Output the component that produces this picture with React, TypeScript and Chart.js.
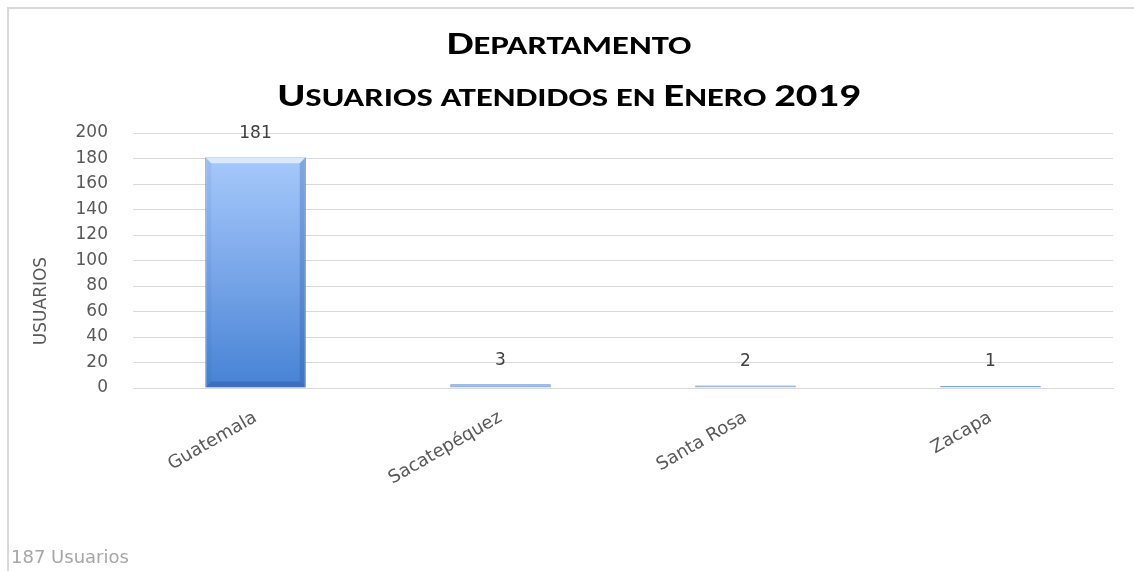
import React, { useEffect, useRef } from "react";
import { Chart, registerables } from "chart.js";

Chart.register(...registerables);

const categories: string[] = ["Guatemala", "Sacatepéquez", "Santa Rosa", "Zacapa"];
const usuarios: number[] = [181, 3, 2, 1];
const titleLines: string[] = ["Departamento", "Usuarios atendidos en Enero 2019"];
const yAxisTitle = "USUARIOS";
const footerText = "187 Usuarios";
const yMin = 0;
const yMax = 200;
const yStep = 20;

const TITLE_FONT = "Carlito, Lato, 'Open Sans', sans-serif";
const FONT = "'DejaVu Sans', Verdana, sans-serif";
const TICK_COLOR = "#595959";
const GRID_COLOR = "#d9d9d9";

const framePlugin = {
  id: "frame",
  beforeDraw(chart: any) {
    const ctx = chart.ctx;
    ctx.save();
    ctx.fillStyle = "#ffffff";
    ctx.fillRect(0, 0, chart.width, chart.height);
    ctx.strokeStyle = "#d9d9d9";
    ctx.lineWidth = 2;
    ctx.strokeRect(8, 8, chart.width + 20, chart.height + 20);
    ctx.restore();
  },
  afterDraw(chart: any) {
    const ctx = chart.ctx;
    ctx.save();
    ctx.fillStyle = TICK_COLOR;
    ctx.font = `17px ${FONT}`;
    ctx.translate(42, 301);
    ctx.rotate(-Math.PI / 2);
    ctx.textAlign = "center";
    ctx.textBaseline = "middle";
    ctx.fillText(yAxisTitle, 0, 0);
    ctx.restore();
    ctx.save();
    ctx.fillStyle = "#a6a6a6";
    ctx.font = `18px ${FONT}`;
    ctx.textAlign = "left";
    ctx.textBaseline = "alphabetic";
    ctx.fillText(footerText, 11, 563);
    ctx.restore();
  },
};

const barDecorPlugin = {
  id: "barDecor",
  afterDatasetsDraw(chart: any) {
    const ctx = chart.ctx;
    const meta = chart.getDatasetMeta(0);
    ctx.save();
    meta.data.forEach((bar: any, i: number) => {
      const { x, y, base, width } = bar.getProps(["x", "y", "base", "width"], true);
      const left = x - width / 2;
      const right = x + width / 2;
      const h = base - y;
      if (h > 12) {
        const b = 6;
        ctx.fillStyle = "rgba(235,245,255,0.75)";
        ctx.beginPath();
        ctx.moveTo(left, y);
        ctx.lineTo(right, y);
        ctx.lineTo(right - b, y + b);
        ctx.lineTo(left + b, y + b);
        ctx.closePath();
        ctx.fill();
        ctx.fillStyle = "rgba(40,80,150,0.28)";
        ctx.beginPath();
        ctx.moveTo(right, y);
        ctx.lineTo(right, base);
        ctx.lineTo(right - b, base - b);
        ctx.lineTo(right - b, y + b);
        ctx.closePath();
        ctx.fill();
        ctx.fillStyle = "rgba(40,80,150,0.08)";
        ctx.beginPath();
        ctx.moveTo(left, y);
        ctx.lineTo(left, base);
        ctx.lineTo(left + b, base - b);
        ctx.lineTo(left + b, y + b);
        ctx.closePath();
        ctx.fill();
        ctx.fillStyle = "rgba(30,70,140,0.3)";
        ctx.beginPath();
        ctx.moveTo(left, base);
        ctx.lineTo(right, base);
        ctx.lineTo(right - b, base - b);
        ctx.lineTo(left + b, base - b);
        ctx.closePath();
        ctx.fill();
      }
      ctx.fillStyle = "#404040";
      ctx.font = `17px ${FONT}`;
      ctx.textAlign = "center";
      ctx.textBaseline = "middle";
      ctx.fillText(String(usuarios[i]), x, y - 24);
    });
    ctx.restore();
  },
};

const smallCapsTitlePlugin = {
  id: "smallCapsTitle",
  afterDraw(chart: any) {
    const ctx = chart.ctx;
    const cx = chart.width / 2 + 2;
    const bigSize = 32;
    const smallSize = 26;
    const stretch = 1.33;
    const baselines = [54, 106];
    ctx.save();
    ctx.fillStyle = "#000000";
    ctx.textBaseline = "alphabetic";
    titleLines.forEach((line, li) => {
      const runs: { t: string; big: boolean }[] = [];
      for (const ch of line) {
        const big = ch === " " ? false : ch === ch.toUpperCase();
        const t = ch.toUpperCase();
        const last = runs[runs.length - 1];
        if (last && last.big === big) last.t += t;
        else runs.push({ t, big });
      }
      let total = 0;
      const widths = runs.map((r) => {
        ctx.font = `bold ${r.big ? bigSize : smallSize}px ${TITLE_FONT}`;
        const w = ctx.measureText(r.t).width;
        total += w;
        return w;
      });
      ctx.save();
      ctx.translate(cx - (total * stretch) / 2, baselines[li]);
      ctx.scale(stretch, 1);
      let xPos = 0;
      runs.forEach((r, k) => {
        ctx.font = `bold ${r.big ? bigSize : smallSize}px ${TITLE_FONT}`;
        ctx.textAlign = "left";
        ctx.fillText(r.t, xPos, 0);
        xPos += widths[k];
      });
      ctx.restore();
    });
    ctx.restore();
  },
};

export default function App() {
  const canvasRef = useRef<HTMLCanvasElement | null>(null);

  useEffect(() => {
    document.body.style.margin = "0";
    document.body.style.overflow = "hidden";
    const canvas = canvasRef.current;
    if (!canvas) return;
    const chart = new Chart(canvas, {
      type: "bar",
      data: {
        labels: categories,
        datasets: [
          {
            label: "Usuarios",
            data: usuarios,
            backgroundColor: (c: any) => {
              const chartObj = c.chart;
              const area = chartObj.chartArea;
              const ys = chartObj.scales?.y;
              if (!area || !ys || c.dataIndex === undefined) return "#7aa9e8";
              const v = usuarios[c.dataIndex];
              const top = ys.getPixelForValue(v);
              const bottom = ys.getPixelForValue(0);
              if (bottom - top < 8) return "#8cb6ee";
              const g = chartObj.ctx.createLinearGradient(0, top, 0, bottom);
              g.addColorStop(0, "#a6c9fb");
              g.addColorStop(0.45, "#7eaaeb");
              g.addColorStop(1, "#4682d4");
              return g;
            },
            borderColor: "#5a86c4",
            borderWidth: 1,
            minBarLength: 2,
            barPercentage: 0.82,
            categoryPercentage: 0.5,
          },
        ],
      },
      options: {
        animation: false,
        responsive: true,
        maintainAspectRatio: false,
        layout: {
          padding: { left: 8, right: 21, top: 133, bottom: 0 },
        },
        plugins: {
          legend: { display: false },
          title: { display: false },
          tooltip: { enabled: false },
        },
        scales: {
          x: {
            grid: { display: false, drawTicks: false },
            border: { display: true, color: GRID_COLOR },
            ticks: {
              color: TICK_COLOR,
              font: { family: FONT, size: 18 },
              minRotation: 30,
              maxRotation: 30,
              padding: 19,
              autoSkip: false,
            },
            afterFit: (scale: any) => {
              scale.height = 571 - 388;
            },
          },
          y: {
            min: yMin,
            max: yMax,
            grid: { color: GRID_COLOR, drawTicks: false, lineWidth: 1 },
            border: { display: false },
            ticks: {
              stepSize: yStep,
              color: TICK_COLOR,
              font: { family: FONT, size: 17 },
              padding: 25,
            },
            afterFit: (scale: any) => {
              scale.width = 125;
            },
          },
        },
      },
      plugins: [framePlugin, barDecorPlugin, smallCapsTitlePlugin],
    });
    return () => chart.destroy();
  }, []);

  return (
    <div style={{ width: 1134, height: 571, position: "relative" }}>
      <canvas ref={canvasRef} />
    </div>
  );
}
